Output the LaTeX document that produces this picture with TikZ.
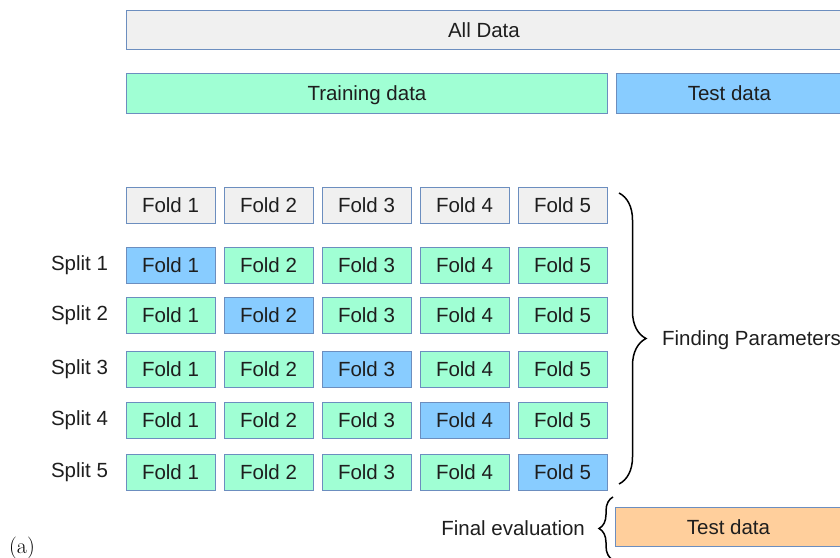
\documentclass[tikz,border=0pt]{standalone}
\usepackage{fontspec}
\newfontfamily\diagfont{Liberation Sans}
\usetikzlibrary{positioning,decorations.pathreplacing}
\definecolor{foldgray}{HTML}{F0F0F0}
\definecolor{traingreen}{HTML}{A0FFD4}
\definecolor{testblue}{HTML}{88CCFF}
\definecolor{evalorange}{HTML}{FFCF9C}
\definecolor{edgeblue}{HTML}{6C8EBF}
\definecolor{inkgray}{HTML}{1E1E1E}

\begin{document}
\begin{tikzpicture}[
    x=1pt, y=-1pt,
    every node/.style={font=\diagfont\fontsize{20.5}{24}\selectfont, text=inkgray, text height=14.6pt, text depth=0pt},
    box/.style={rectangle, draw=edgeblue, line width=0.9pt, inner sep=0pt, minimum height=39pt},
    fold/.style={box, minimum width=89pt, minimum height=36pt},
    brace/.style={decorate, line width=1.5pt, decoration={brace, amplitude=#1}}
]
\useasboundingbox (0,0) rectangle (840,557);

\node[box, fill=foldgray, minimum width=715pt, anchor=north west] (all) at (126,10) {All Data};
\node[box, fill=traingreen, minimum width=481pt, minimum height=40pt, anchor=north west] (train) at (126,73) {Training data};
\node[box, fill=testblue, minimum width=226pt, minimum height=40pt, right=8pt of train] (test) {Test data};

% header row of folds
\foreach \c in {1,...,5}
    \node[fold, fill=foldgray] (f0\c) at ({170.5+98*(\c-1)},205) {Fold \c};

% one row per split, the held-out fold in blue
\foreach \r/\y in {1/265, 2/315, 3/369, 4/420, 5/472} {
    \foreach \c in {1,...,5} {
        \edef\fc{\ifnum\c=\r testblue\else traingreen\fi}
        \node[fold, fill=\fc] (f\r\c) at ({170.5+98*(\c-1)},\y) {Fold \c};
    }
    \node[left=14pt of f\r1, yshift=1.5pt] (split\r) {Split \r};
}

\node[box, fill=evalorange, minimum width=226pt, anchor=north west] (final) at (615,507) {Test data};

\coordinate (btop) at (619,193);
\coordinate (bbot) at (619,484);
\draw[brace=27pt] (btop) -- (bbot) node[midway, right=39pt] (findpar) {Finding Parameters};

\coordinate (ebot) at (613,560);
\coordinate (etop) at (613,497);
\draw[brace=14pt] (ebot) -- (etop) node[midway, left=24pt] (finaleval) {Final evaluation};

\node[font=\rmfamily\fontsize{22}{24}\selectfont, text=black, anchor=base west, inner sep=0pt] (tag) at (9,553) {(a)};
\end{tikzpicture}
\end{document}
